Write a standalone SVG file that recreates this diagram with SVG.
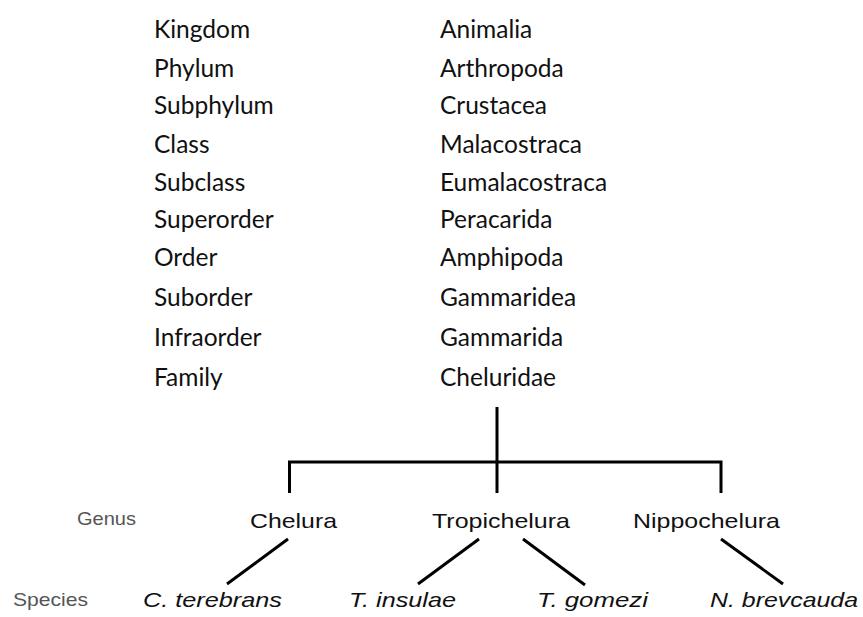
<svg xmlns="http://www.w3.org/2000/svg" width="863" height="617" viewBox="0 0 863 617">
<style>
.rank{font-family:Lato,"Liberation Sans",sans-serif;font-size:24.5px;fill:#111}
.taxon{font-family:Lato,"Liberation Sans",sans-serif;font-size:24.5px;fill:#111}
.lvl{font-family:"Liberation Sans",Arial,sans-serif;font-size:18.5px;fill:#555}
.gen{font-family:"Liberation Sans",Arial,sans-serif;font-size:21px;fill:#111}
.sp{font-family:"Liberation Sans",Arial,sans-serif;font-size:21px;font-style:italic;fill:#111}
.conn line,.conn path{stroke:#000;stroke-width:3;fill:none}
</style>
<rect width="863" height="617" fill="#fff"/>
<g id="ranks">
<text class="rank" x="154" y="38">Kingdom</text>
<text class="rank" x="154" y="77">Phylum</text>
<text class="rank" x="154" y="114">Subphylum</text>
<text class="rank" x="154" y="153">Class</text>
<text class="rank" x="154" y="191">Subclass</text>
<text class="rank" x="154" y="228">Superorder</text>
<text class="rank" x="154" y="266">Order</text>
<text class="rank" x="154" y="306">Suborder</text>
<text class="rank" x="154" y="346">Infraorder</text>
<text class="rank" x="154" y="386">Family</text>
</g>
<g id="taxa">
<text class="taxon" x="440" y="38">Animalia</text>
<text class="taxon" x="440" y="77">Arthropoda</text>
<text class="taxon" x="440" y="114">Crustacea</text>
<text class="taxon" x="440" y="153">Malacostraca</text>
<text class="taxon" x="440" y="191">Eumalacostraca</text>
<text class="taxon" x="440" y="228">Peracarida</text>
<text class="taxon" x="440" y="266">Amphipoda</text>
<text class="taxon" x="440" y="306">Gammaridea</text>
<text class="taxon" x="440" y="346">Gammarida</text>
</g>
<g id="cheluridae"><text class="taxon" x="440" y="386">Cheluridae</text></g>
<g id="level-genus"><text class="lvl" x="77" y="525" textLength="59" lengthAdjust="spacingAndGlyphs">Genus</text></g>
<g id="level-species"><text class="lvl" x="13" y="606" textLength="75" lengthAdjust="spacingAndGlyphs">Species</text></g>
<g id="chelura"><text class="gen" x="250" y="528" textLength="87" lengthAdjust="spacingAndGlyphs">Chelura</text></g>
<g id="tropichelura"><text class="gen" x="432" y="528" textLength="138" lengthAdjust="spacingAndGlyphs">Tropichelura</text></g>
<g id="nippochelura"><text class="gen" x="633" y="528" textLength="147" lengthAdjust="spacingAndGlyphs">Nippochelura</text></g>
<g id="c-terebrans"><text class="sp" x="143" y="607" textLength="139" lengthAdjust="spacingAndGlyphs">C. terebrans</text></g>
<g id="t-insulae"><text class="sp" x="349" y="607" textLength="107" lengthAdjust="spacingAndGlyphs">T. insulae</text></g>
<g id="t-gomezi"><text class="sp" x="537" y="607" textLength="111" lengthAdjust="spacingAndGlyphs">T. gomezi</text></g>
<g id="n-brevcauda"><text class="sp" x="710" y="607" textLength="148" lengthAdjust="spacingAndGlyphs">N. brevcauda</text></g>
<g id="connectors" class="conn">
<line x1="497" y1="407" x2="497" y2="493"/>
<path d="M289.5 493 V462 H721 V493"/>
<line x1="288" y1="539" x2="227" y2="584"/>
<line x1="479" y1="539" x2="418" y2="584"/>
<line x1="523" y1="539" x2="585" y2="585"/>
<line x1="721" y1="539" x2="783" y2="584"/>
</g>
</svg>
